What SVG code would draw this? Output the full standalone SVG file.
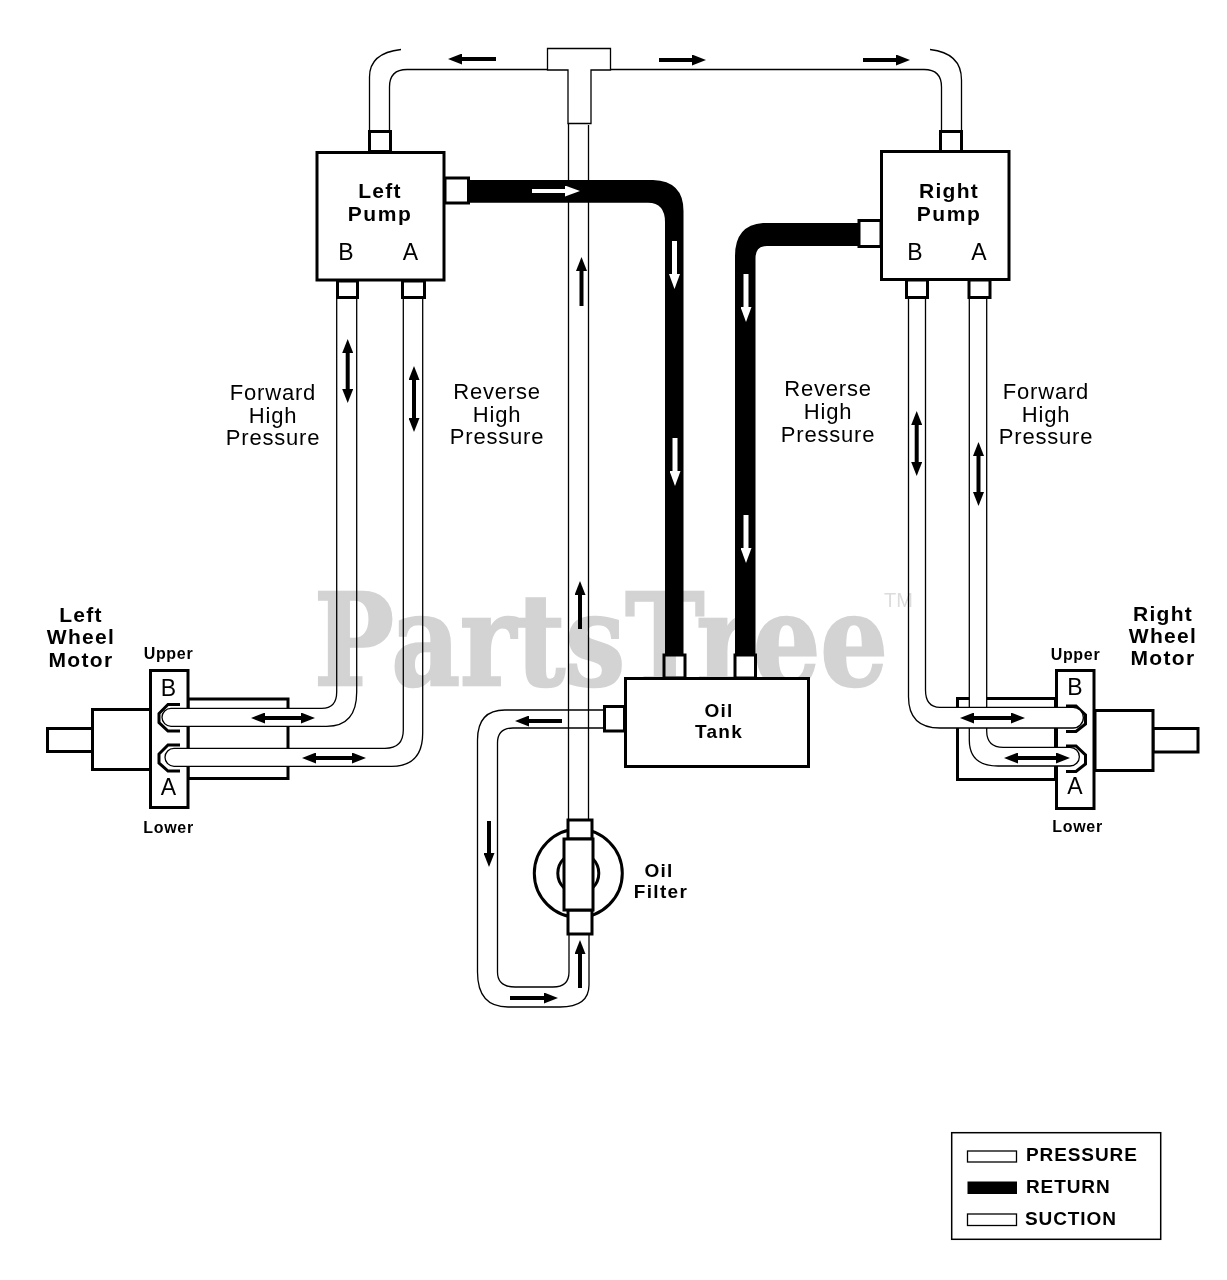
<svg xmlns="http://www.w3.org/2000/svg" width="1227" height="1280" viewBox="0 0 1227 1280">
<style>
text{font-family:"Liberation Sans",Arial,sans-serif;fill:#000;text-anchor:middle}
.b{font-weight:700;font-size:21px;letter-spacing:1.3px}
.o{font-weight:700;font-size:19px;letter-spacing:1.3px}
.s{font-weight:700;font-size:16px;letter-spacing:.7px}
.r{font-size:22px;letter-spacing:.8px}
.p{font-size:23px}
.l{font-weight:700;font-size:19px;letter-spacing:.9px;text-anchor:start}
.h{fill:#fff;stroke:#000;stroke-width:3}
.t{fill:none;stroke:#000;stroke-width:1.3}
.w{fill:#fff;stroke:#000;stroke-width:1.3}
.k{fill:#000}
.ar{stroke:#000;stroke-width:4;fill:none;marker-end:url(#ah)}
.ad{stroke:#000;stroke-width:4;fill:none;marker-start:url(#ah);marker-end:url(#ah)}
.aw{stroke:#fff;stroke-width:5;fill:none;marker-end:url(#wh)}
#watermark{mix-blend-mode:multiply}
.wm{font-family:"DejaVu Serif",serif;font-weight:700;font-size:128px;fill:#d3d3d3;stroke:#d3d3d3;stroke-width:2.500;stroke-linejoin:miter;text-anchor:start}
.tm{font-size:20px;fill:#dcdcdc;text-anchor:start}
</style>
<defs>
<marker id="ah" markerUnits="userSpaceOnUse" markerWidth="14" markerHeight="11" refX="1" refY="5.5" orient="auto-start-reverse"><path d="M0,0L14,5.5L0,11Z" fill="#000"/></marker>
<marker id="wh" markerUnits="userSpaceOnUse" markerWidth="15" markerHeight="11" refX="1" refY="5.5" orient="auto"><path d="M0,0L15,5.5L0,11Z" fill="#fff"/></marker>
<clipPath id="wmclip"><path clip-rule="evenodd" d="M0,0H1227V1280H0ZM625,678H809V767H625Z"/></clipPath>
</defs>
<rect width="1227" height="1280" fill="#fff"/>

<g id="left-wheel-motor">
<rect class="h" x="47.500" y="728.500" width="45" height="23"/>
<rect class="h" x="92.500" y="709.500" width="58" height="60"/>
<rect class="h" x="188" y="699" width="100" height="79.500"/>
<rect class="h" x="150.500" y="670.500" width="37.500" height="137"/>
<path class="h" d="M180,704.500H168L159,713.500V722.500L168,731H180"/>
<path class="h" d="M180,745H168L159,754V763L168,771H180"/>
<text class="p" x="168.500" y="696">B</text>
<text class="p" x="168.500" y="795">A</text>
<text class="s" x="168.500" y="659">Upper</text>
<text class="s" x="168.500" y="833">Lower</text>
<text class="b" x="81" y="621.500">Left</text>
<text class="b" x="81" y="644">Wheel</text>
<text class="b" x="81" y="666.500">Motor</text>
</g>

<g id="right-wheel-motor">
<rect class="h" x="1153" y="728.500" width="45" height="23.500"/>
<rect class="h" x="1095" y="710.500" width="58" height="60"/>
<rect class="h" x="957.500" y="698.500" width="98" height="81"/>
<rect class="h" x="1056.500" y="670.500" width="37.500" height="138"/>
<path class="h" d="M1066,706H1076L1085.500,715V724L1076,731.500H1066"/>
<path class="h" d="M1066,746H1076L1085.500,755V764L1076,771.500H1066"/>
<text class="p" x="1075" y="695">B</text>
<text class="p" x="1075" y="794">A</text>
<text class="s" x="1075.500" y="660">Upper</text>
<text class="s" x="1077.500" y="832">Lower</text>
<text class="b" x="1163" y="621">Right</text>
<text class="b" x="1163" y="643">Wheel</text>
<text class="b" x="1163" y="665">Motor</text>
</g>

<g id="connectors">
<path class="t" d="M568.500,123V819M588.500,125V819"/>
<path class="t" d="M603,710H505Q477.500,710 477.500,740V972Q477.500,1007 508,1007H560Q589,1007 589,985V935"/>
<path class="t" d="M603,728H513Q497.500,728 497.500,743V972Q497.500,987 515,987H553Q569,987 569,972V935"/>
<path class="t" d="M547,69.500H407Q389.500,69.500 389.500,87V131"/>
<path class="t" d="M369.500,131V77Q369.500,53 401,49.500"/>
<path class="t" d="M611,69.500H924Q941.500,69.500 941.500,87V131"/>
<path class="t" d="M961.500,131V80Q961.500,53 930,49.500"/>
<path class="k" d="M468,180H653Q683.500,181 683.500,211V655H665V222Q665,203 648,202.700H468Z"/>
<path class="k" d="M858,223H763Q735,225 735,256V655H755.500V258Q755.500,246 767,246H858Z"/>
<path class="w" d="M336.700,297V692Q336.700,708.300 321.700,708.300H171A9,9 0 0 0 171,726.300H326.700Q356.700,726.300 356.700,692V297"/>
<path class="w" d="M403.300,297V730Q403.300,748.300 385,748.300H174A9,9 0 0 0 174,766.300H391.700Q422.700,766.300 422.700,733V297"/>
<path class="w" d="M969.300,297V740Q969.300,766 998,766H1070A9.350,9.350 0 0 0 1070,747.300H1003.300Q986.700,747.300 986.700,731V297"/>
<path class="w" d="M925.500,297V690Q925.500,707.300 940,707.300H1073A10.350,10.350 0 0 1 1073,728H940Q908.500,728 908.500,696.700V297"/>
<line class="ar" x1="496" y1="59" x2="461" y2="59"/>
<line class="ar" x1="659" y1="60" x2="693" y2="60"/>
<line class="ar" x1="863" y1="60" x2="897" y2="60"/>
<line class="ar" x1="581.500" y1="306" x2="581.500" y2="270"/>
<line class="ar" x1="580" y1="629" x2="580" y2="594"/>
<line class="ar" x1="580" y1="988" x2="580" y2="953"/>
<line class="ar" x1="562" y1="721" x2="528" y2="721"/>
<line class="ar" x1="489" y1="821" x2="489" y2="854"/>
<line class="ar" x1="510" y1="998" x2="545" y2="998"/>
<line class="ad" x1="347.700" y1="352" x2="347.700" y2="390"/>
<line class="ad" x1="414" y1="379" x2="414" y2="419"/>
<line class="ad" x1="916.700" y1="424" x2="916.700" y2="463"/>
<line class="ad" x1="978.500" y1="455" x2="978.500" y2="493"/>
<line class="ad" x1="264" y1="718" x2="302" y2="718"/>
<line class="ad" x1="315" y1="758" x2="353" y2="758"/>
<line class="ad" x1="973" y1="718" x2="1012" y2="718"/>
<line class="ad" x1="1017" y1="758" x2="1057" y2="758"/>
<line class="aw" x1="532" y1="191" x2="566" y2="191" style="stroke-width:4"/>
<line class="aw" x1="674.500" y1="241" x2="674.500" y2="275"/>
<line class="aw" x1="675" y1="438" x2="675" y2="472"/>
<line class="aw" x1="746" y1="274" x2="746" y2="308"/>
<line class="aw" x1="746" y1="515" x2="746" y2="549"/>
</g>

<g id="tee-fitting">
<path class="w" d="M547.500,48.500H610.500V70H591V123.500H568V70H547.500Z"/>
</g>

<g id="left-pump">
<rect class="h" x="369.500" y="131.500" width="21" height="20"/>
<rect class="h" x="445" y="178" width="23.500" height="25"/>
<rect class="h" x="337.500" y="281" width="20" height="16.500"/>
<rect class="h" x="402.500" y="281" width="22" height="16.500"/>
<rect class="h" x="317" y="152.500" width="127" height="127.500"/>
<text class="b" x="380" y="198">Left</text>
<text class="b" x="380" y="221" style="letter-spacing:1.600px">Pump</text>
<text class="p" x="346" y="260">B</text>
<text class="p" x="410.500" y="260">A</text>
</g>

<g id="right-pump">
<rect class="h" x="940.500" y="131.500" width="21" height="20"/>
<rect class="h" x="859" y="220.500" width="22" height="26"/>
<rect class="h" x="906.500" y="280" width="21" height="17.500"/>
<rect class="h" x="969" y="280" width="21" height="17.500"/>
<rect class="h" x="881.500" y="151.500" width="127.500" height="128"/>
<text class="b" x="949" y="198">Right</text>
<text class="b" x="949" y="221" style="letter-spacing:1.600px">Pump</text>
<text class="p" x="915" y="260">B</text>
<text class="p" x="979" y="260">A</text>
</g>

<g id="oil-tank">
<rect class="h" x="664" y="655" width="21" height="23"/>
<rect class="h" x="735" y="655" width="20.500" height="23"/>
<rect class="h" x="604.500" y="706.500" width="20" height="24.500"/>
<rect class="h" x="625.500" y="678.500" width="183" height="88"/>
<text class="o" x="719" y="716.500">Oil</text>
<text class="o" x="719" y="737.500">Tank</text>
</g>

<g id="oil-filter">
<circle cx="578.300" cy="873.300" r="44" fill="#fff" stroke="#000" stroke-width="3"/>
<circle cx="578.300" cy="873.300" r="20.500" fill="#fff" stroke="#000" stroke-width="3"/>
<rect class="h" x="568" y="820" width="24" height="19"/>
<rect class="h" x="568" y="910" width="24" height="24"/>
<rect class="h" x="564" y="839" width="29" height="71"/>
<text class="o" x="659" y="876.500">Oil</text>
<text class="o" x="661" y="897.500">Filter</text>
</g>

<g id="labels">
<text class="r" x="273" y="400">Forward</text>
<text class="r" x="273" y="423">High</text>
<text class="r" x="273" y="445">Pressure</text>
<text class="r" x="497" y="399">Reverse</text>
<text class="r" x="497" y="422">High</text>
<text class="r" x="497" y="444">Pressure</text>
<text class="r" x="828" y="396">Reverse</text>
<text class="r" x="828" y="419">High</text>
<text class="r" x="828" y="442">Pressure</text>
<text class="r" x="1046" y="399">Forward</text>
<text class="r" x="1046" y="422">High</text>
<text class="r" x="1046" y="444">Pressure</text>
</g>

<g id="legend">
<rect x="951.700" y="1132.700" width="209" height="106.600" fill="#fff" stroke="#000" stroke-width="1.500"/>
<rect class="w" x="967.500" y="1151" width="49" height="11"/>
<rect class="k" x="967.500" y="1181.500" width="49.500" height="12.500"/>
<rect class="w" x="967.500" y="1214" width="49" height="11.500"/>
<text class="l" x="1026" y="1161">PRESSURE</text>
<text class="l" x="1026" y="1192.500">RETURN</text>
<text class="l" x="1025" y="1224.500">SUCTION</text>
</g>

<g id="watermark" clip-path="url(#wmclip)">
<text class="wm" x="314" y="685" textLength="574" lengthAdjust="spacingAndGlyphs">PartsTree</text>
<text class="tm" x="884" y="607">TM</text>
</g>
</svg>
